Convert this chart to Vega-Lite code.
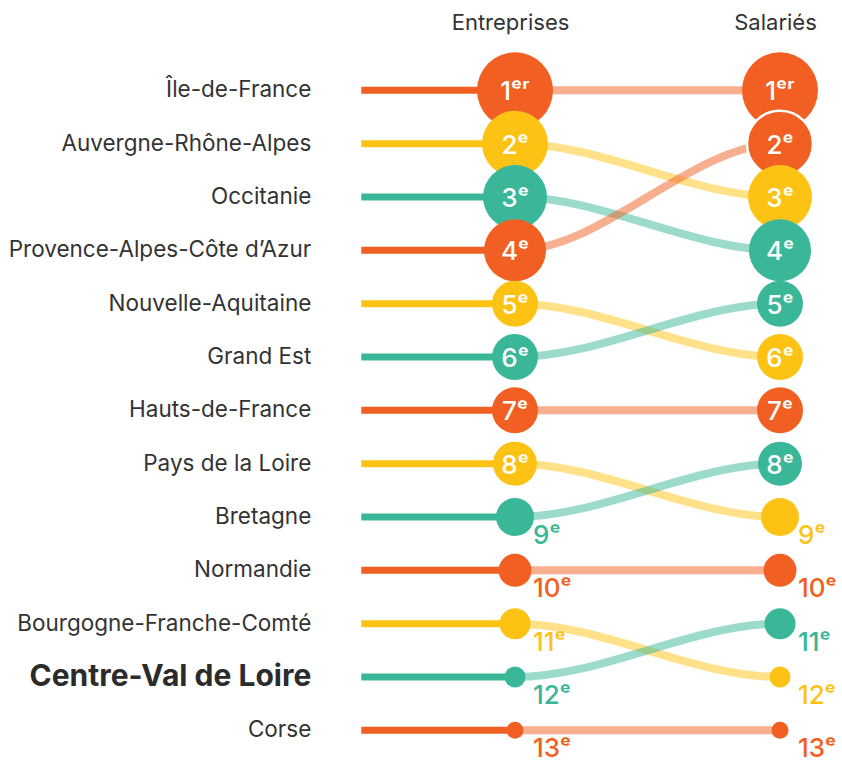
{
  "$schema": "https://vega.github.io/schema/vega-lite/v6.json",
  "width": 265,
  "height": 693.33,
  "autosize": {"type": "none"},
  "padding": {"left": 515, "top": 63.67, "right": 62, "bottom": 3},
  "background": "#ffffff",
  "config": {"view": {"stroke": null}, "font": "Inter"},
  "datasets": {
    "regions": [
      {"region": "Île-de-France", "entreprises": 1, "salaries": 1},
      {"region": "Auvergne-Rhône-Alpes", "entreprises": 2, "salaries": 3},
      {"region": "Occitanie", "entreprises": 3, "salaries": 4},
      {"region": "Provence-Alpes-Côte d’Azur", "entreprises": 4, "salaries": 2},
      {"region": "Nouvelle-Aquitaine", "entreprises": 5, "salaries": 6},
      {"region": "Grand Est", "entreprises": 6, "salaries": 5},
      {"region": "Hauts-de-France", "entreprises": 7, "salaries": 7},
      {"region": "Pays de la Loire", "entreprises": 8, "salaries": 9},
      {"region": "Bretagne", "entreprises": 9, "salaries": 8},
      {"region": "Normandie", "entreprises": 10, "salaries": 10},
      {"region": "Bourgogne-Franche-Comté", "entreprises": 11, "salaries": 12},
      {"region": "Centre-Val de Loire", "entreprises": 12, "salaries": 11},
      {"region": "Corse", "entreprises": 13, "salaries": 13}
    ],
    "rangs": [
      {"rang": 1, "libelle": "1ᵉʳ"},
      {"rang": 2, "libelle": "2ᵉ"},
      {"rang": 3, "libelle": "3ᵉ"},
      {"rang": 4, "libelle": "4ᵉ"},
      {"rang": 5, "libelle": "5ᵉ"},
      {"rang": 6, "libelle": "6ᵉ"},
      {"rang": 7, "libelle": "7ᵉ"},
      {"rang": 8, "libelle": "8ᵉ"},
      {"rang": 9, "libelle": "9ᵉ"},
      {"rang": 10, "libelle": "10ᵉ"},
      {"rang": 11, "libelle": "11ᵉ"},
      {"rang": 12, "libelle": "12ᵉ"},
      {"rang": 13, "libelle": "13ᵉ"}
    ]
  },
  "data": {"name": "regions"},
  "transform": [
    {"fold": ["entreprises", "entreprises", "salaries", "salaries"], "as": ["colonne", "rang"]},
    {"window": [{"op": "row_number", "as": "etape"}], "groupby": ["region"]}
  ],
  "encoding": {
    "x": {
      "field": "etape", "type": "quantitative",
      "scale": {"domain": [2, 3], "nice": false, "zero": false},
      "axis": {"orient": "top", "values": [2, 3], "labelExpr": "datum.value == 2 ? 'Entreprises' : 'Salariés'", "domain": false, "ticks": false, "tickSize": 0, "grid": false, "title": null, "labelFontSize": 22, "labelColor": "#333333", "labelPadding": 34.67, "labelBaseline": "alphabetic", "labelFont": "Inter", "labelAlign": "center", "labelFlush": false, "labelOffset": -5}
    },
    "y": {"field": "rang", "type": "quantitative", "scale": {"domain": [0.5, 13.5], "reverse": true, "nice": false, "zero": false}, "axis": null},
    "color": {
      "field": "region", "type": "nominal", "legend": null,
      "scale": {
        "domain": ["Île-de-France", "Auvergne-Rhône-Alpes", "Occitanie", "Provence-Alpes-Côte d’Azur", "Nouvelle-Aquitaine", "Grand Est", "Hauts-de-France", "Pays de la Loire", "Bretagne", "Normandie", "Bourgogne-Franche-Comté", "Centre-Val de Loire", "Corse"],
        "range": ["#F16022", "#FDC314", "#3AB799", "#F16022", "#FDC314", "#3AB799", "#F16022", "#FDC314", "#3AB799", "#F16022", "#FDC314", "#3AB799", "#F16022"]
      }
    }
  },
  "layer": [
    {
      "mark": {"type": "line", "interpolate": "monotone", "strokeWidth": 8, "strokeOpacity": 0.5, "clip": true, "strokeCap": "butt"}
    },
    {
      "transform": [{"filter": "datum.etape == 2"}],
      "mark": {"type": "rule", "strokeWidth": 7},
      "encoding": {"x": {"datum": 1.42}, "x2": {"datum": 2}}
    },
    {
      "transform": [{"filter": "datum.etape == 2 && datum.region != 'Centre-Val de Loire'"}],
      "mark": {"type": "text", "align": "right", "baseline": "middle", "dx": -50, "fontSize": 22.5},
      "encoding": {"x": {"datum": 1.42}, "text": {"field": "region"}, "color": {"value": "#333333"}}
    },
    {
      "transform": [{"filter": "datum.etape == 2 && datum.region == 'Centre-Val de Loire'"}],
      "mark": {"type": "text", "align": "right", "baseline": "middle", "dx": -50, "fontSize": 30, "fontWeight": "bold"},
      "encoding": {"x": {"datum": 1.42}, "text": {"field": "region"}, "color": {"value": "#2b2b2b"}}
    },
    {
      "transform": [{"filter": "datum.etape == 2 || datum.etape == 3"}],
      "mark": {"type": "circle", "opacity": 1, "stroke": "#ffffff"},
      "encoding": {
        "size": {"field": "rang", "type": "quantitative", "legend": null, "scale": {"domain": [1, 2, 3, 4, 5, 6, 7, 8, 9, 10, 11, 12, 13], "range": [5776, 4356, 4096, 3844, 2116, 2116, 2116, 1936, 1444, 1089, 961, 441, 289], "zero": false}},
        "order": {"field": "rang"},
        "strokeWidth": {"condition": {"test": "datum.region == 'Provence-Alpes-Côte d’Azur' && datum.etape == 3", "value": 2.5}, "value": 0}
      }
    },
    {
      "transform": [
        {"filter": "(datum.etape == 2 || datum.etape == 3) && datum.rang <= 8"},
        {"lookup": "rang", "from": {"data": {"name": "rangs"}, "key": "rang", "fields": ["libelle"]}}
      ],
      "mark": {"type": "text", "align": "center", "baseline": "alphabetic", "dy": 10, "fontSize": 26, "fontWeight": 500},
      "encoding": {"text": {"field": "libelle"}, "color": {"value": "#ffffff"}}
    },
    {
      "transform": [
        {"filter": "(datum.etape == 2 || datum.etape == 3) && datum.rang >= 9"},
        {"lookup": "rang", "from": {"data": {"name": "rangs"}, "key": "rang", "fields": ["libelle"]}}
      ],
      "mark": {"type": "text", "align": "left", "baseline": "alphabetic", "dx": 18, "dy": 27, "fontSize": 26, "fontWeight": 500},
      "encoding": {"text": {"field": "libelle"}}
    }
  ]
}
